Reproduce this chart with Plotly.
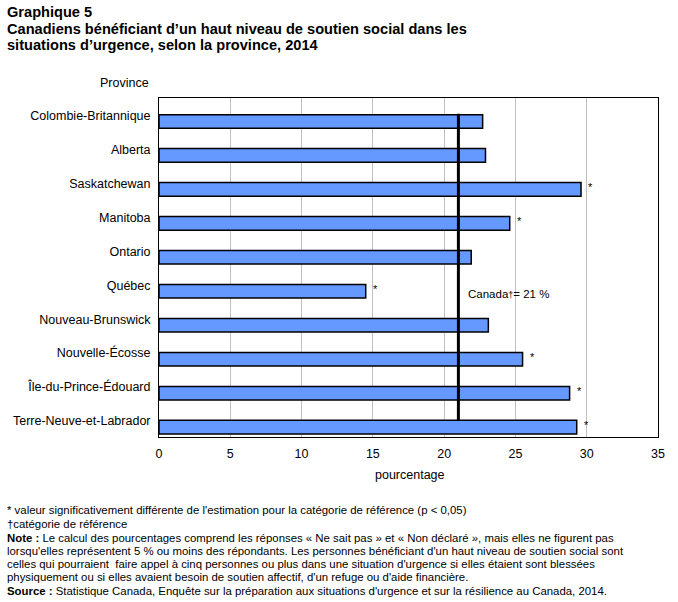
import plotly.graph_objects as go

provinces = ["Colombie-Britannique", "Alberta", "Saskatchewan", "Manitoba", "Ontario",
             "Québec", "Nouveau-Brunswick", "Nouvelle-Écosse", "Île-du-Prince-Édouard",
             "Terre-Neuve-et-Labrador"]
values = [22.7, 22.9, 29.6, 24.6, 21.9, 14.5, 23.1, 25.5, 28.8, 29.3]
significant = [False, False, True, True, False, True, False, True, True, True]
canada_value = 21
x_ticks = [0, 5, 10, 15, 20, 25, 30, 35]

FONT = "Liberation Sans, Arial, sans-serif"
W, H = 678, 602
L, R, T, B = 159, 20, 98, 165
PH = H - T - B

def py(p):
    return (H - B - p) / PH

def px(p):
    return (p - L) / (W - L - R)

fig = go.Figure()
fig.add_trace(go.Bar(
    x=values, y=list(range(len(provinces))), orientation="h",
    width=0.4,
    marker=dict(color="#6699FF", line=dict(color="black", width=1.5)),
    hoverinfo="x+y",
))

annotations = []
for i, (v, s) in enumerate(zip(values, significant)):
    if s:
        annotations.append(dict(x=v, y=i, xref="x", yref="y", text="*", showarrow=False,
                                xanchor="left", yanchor="middle", xshift=5, yshift=2,
                                font=dict(family=FONT, size=11, color="black")))

annotations.append(dict(x=canada_value, y=5, xref="x", yref="y",
                        text="Canada<span style='font-size:9px'>†</span>= 21 %", showarrow=False, xanchor="left",
                        yanchor="middle", xshift=8, yshift=-3,
                        font=dict(family=FONT, size=11.5, color="black")))

# Titles
title_lines = [("Graphique 5", 12),
               ("Canadiens bénéficiant d’un haut niveau de soutien social dans les", 29),
               ("situations d’urgence, selon la province, 2014", 45)]
for txt, yp in title_lines:
    annotations.append(dict(x=px(5), y=py(yp), xref="paper", yref="paper", text="<b>%s</b>" % txt,
                            showarrow=False, xanchor="left", yanchor="middle",
                            font=dict(family=FONT, size=14.6, color="black")))

annotations.append(dict(x=px(98), y=py(83), xref="paper", yref="paper", text="Province",
                        showarrow=False, xanchor="left", yanchor="middle",
                        font=dict(family=FONT, size=12.5, color="black")))
annotations.append(dict(x=px(410), y=py(475), xref="paper", yref="paper", text="pourcentage",
                        showarrow=False, xanchor="center", yanchor="middle",
                        font=dict(family=FONT, size=12.5, color="black")))

notes = [
    ("* valeur significativement différente de l'estimation pour la catégorie de référence (p < 0,05)", 510),
    ("†catégorie de référence", 524),
    ("<b>Note :</b> Le calcul des pourcentages comprend les réponses « Ne sait pas » et « Non déclaré », mais elles ne figurent pas", 538),
    ("lorsqu'elles représentent 5 % ou moins des répondants. Les personnes bénéficiant d'un haut niveau de soutien social sont", 551),
    ("celles qui pourraient  faire appel à cinq personnes ou plus dans une situation d'urgence si elles étaient sont blessées", 564),
    ("physiquement ou si elles avaient besoin de soutien affectif, d'un refuge ou d'aide financière.", 577),
    ("<b>Source :</b> Statistique Canada, Enquête sur la préparation aux situations d'urgence et sur la résilience au Canada, 2014.", 591),
]
for txt, yp in notes:
    annotations.append(dict(x=px(5), y=py(yp), xref="paper", yref="paper", text=txt,
                            showarrow=False, xanchor="left", yanchor="middle",
                            font=dict(family=FONT, size=11.4, color="black")))

fig.add_shape(type="line", x0=canada_value, x1=canada_value, y0=-0.23, y1=8.79,
              xref="x", yref="y", line=dict(color="black", width=3), layer="above")

fig.update_layout(
    width=W, height=H, margin=dict(l=L, r=R, t=T, b=B),
    paper_bgcolor="white", plot_bgcolor="white",
    showlegend=False, bargap=0.6,
    annotations=annotations,
    font=dict(family=FONT, size=12.5, color="black"),
)
fig.update_xaxes(range=[0, 35], tickvals=x_ticks, ticktext=[str(t) for t in x_ticks],
                 showgrid=True, gridcolor="#C0C0C0", gridwidth=1,
                 showline=True, linecolor="black", linewidth=1, mirror=True,
                 ticks="", zeroline=False, ticklabelstandoff=5,
                 tickfont=dict(family=FONT, size=12.5))
fig.update_yaxes(range=[9.29, -0.69], tickvals=[i - 0.18 for i in range(len(provinces))],
                 ticktext=provinces,
                 showgrid=False, showline=True, linecolor="black", linewidth=1, mirror=True,
                 ticks="", zeroline=False, ticklabelstandoff=5,
                 tickfont=dict(family=FONT, size=12.5))

fig.write_html("out.html")
